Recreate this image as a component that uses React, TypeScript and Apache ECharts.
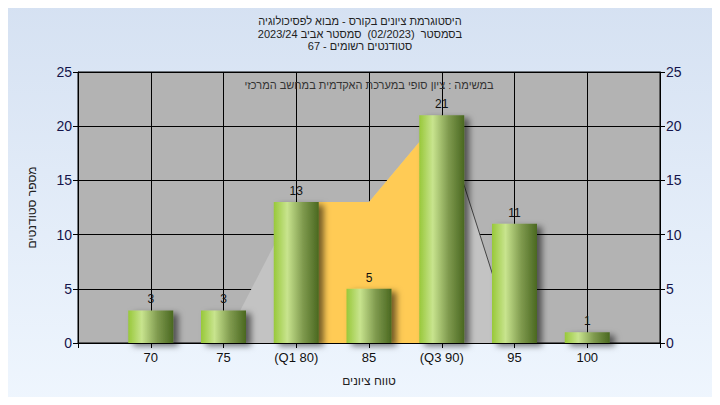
import React, { useEffect, useRef } from "react";
import * as echarts from "echarts";

const titleLines = [
  "היסטוגרמת ציונים בקורס - מבוא לפסיכולוגיה",
  "בסמסטר  (02/2023)  סמסטר אביב 2023/24",
  "סטודנטים רשומים - 67",
];
const noteText = "במשימה : ציון סופי במערכת האקדמית במחשב המרכזי";
const xAxisName = "טווח ציונים";
const yAxisName = "מספר סטודנטים";

const grades = [70, 75, 80, 85, 90, 95, 100];
const gradeLabels = ["70", "75", "(Q1 80)", "85", "(Q3 90)", "95", "100"];
const counts = [3, 3, 13, 5, 21, 11, 1];

const outerAreaX = [75, 80, 85, 90, 95];
const outerAreaY = [0, 13, 13, 21, 0];
const quartileAreaX = [80, 85, 90];
const quartileAreaY = [13, 13, 21];
const edgeLineX = [90, 95];
const edgeLineY = [21, 0];

const yTicks = [0, 5, 10, 15, 20, 25];

export default function App() {
  const ref = useRef<HTMLDivElement>(null);
  useEffect(() => {
    if (!ref.current) return;
    const chart = echarts.init(ref.current, null, { renderer: "svg" });
    const font = "Liberation Sans, Arial, sans-serif";
    const barGradient = new echarts.graphic.LinearGradient(0, 0, 1, 0, [
      { offset: 0, color: "#98c83a" },
      { offset: 0.3, color: "#c8e48e" },
      { offset: 0.65, color: "#7f9a4e" },
      { offset: 1, color: "#4a6820" },
    ]);
    const yAxisCommon = {
      type: "value" as const,
      min: yTicks[0],
      max: yTicks[yTicks.length - 1],
      interval: 5,
      axisLine: { show: true, lineStyle: { color: "#000", width: 1 } },
      axisTick: { show: true, length: 5, lineStyle: { color: "#000" } },
      axisLabel: { color: "#14144a", fontSize: 14, fontFamily: font, margin: 6 },
    };
    chart.setOption({
      animation: false,
      backgroundColor: new echarts.graphic.LinearGradient(0, 0, 0, 1, [
        { offset: 0, color: "#d5e1f2" },
        { offset: 1, color: "#eff6fe" },
      ]),
      textStyle: { fontFamily: font },
      title: {
        text: titleLines.join("\n"),
        left: "center",
        top: 10,
        textStyle: { fontSize: 11, fontWeight: "normal", color: "#222", lineHeight: 12.5, fontFamily: font },
      },
      graphic: [
        {
          type: "text",
          x: 369,
          y: 85,
          style: {
            text: noteText,
            fontSize: 11,
            fill: "#333",
            fontFamily: font,
            textAlign: "center",
            textVerticalAlign: "middle",
          },
          z: 10,
        },
      ],
      grid: {
        left: 78,
        right: 60,
        top: 72,
        bottom: 62,
        show: true,
        backgroundColor: "#b3b3b3",
        borderColor: "#000",
        borderWidth: 1,
      },
      xAxis: {
        type: "value",
        min: 65,
        max: 105,
        interval: 5,
        name: xAxisName,
        nameLocation: "middle",
        nameGap: 32,
        nameTextStyle: { fontSize: 12, color: "#222", fontFamily: font },
        axisLine: { show: true, onZero: false, lineStyle: { color: "#000" } },
        axisTick: { show: true, length: 5, lineStyle: { color: "#000" } },
        axisLabel: {
          color: "#111",
          fontSize: 13,
          fontFamily: font,
          margin: 8,
          formatter: (v: number) => {
            const i = grades.indexOf(v);
            return i >= 0 ? gradeLabels[i] : "";
          },
        },
        splitLine: { show: true, lineStyle: { color: "#000", width: 1 } },
      },
      yAxis: [
        {
          ...yAxisCommon,
          position: "left",
          name: yAxisName,
          nameLocation: "middle",
          nameGap: 40,
          nameTextStyle: { fontSize: 12, color: "#222", fontFamily: font },
          splitLine: { show: true, lineStyle: { color: "#000", width: 1 } },
        },
        {
          ...yAxisCommon,
          position: "right",
          splitLine: { show: false },
        },
      ],
      series: [
        {
          type: "line",
          data: outerAreaX.map((x, i) => [x, outerAreaY[i]]),
          symbol: "none",
          lineStyle: { width: 0 },
          areaStyle: { color: "#c3c3c3", opacity: 1 },
          z: 1,
          silent: true,
        },
        {
          type: "line",
          data: quartileAreaX.map((x, i) => [x, quartileAreaY[i]]),
          symbol: "none",
          lineStyle: { width: 0 },
          areaStyle: { color: "#ffcb55", opacity: 1 },
          z: 2,
          silent: true,
        },
        {
          type: "line",
          data: edgeLineX.map((x, i) => [x, edgeLineY[i]]),
          symbol: "none",
          lineStyle: { width: 1, color: "#444" },
          z: 3,
          silent: true,
        },
        {
          type: "bar",
          data: grades.map((g, i) => [g, counts[i]]),
          barWidth: 45,
          z: 5,
          itemStyle: {
            color: barGradient,
            shadowColor: "rgba(0,0,0,0.55)",
            shadowBlur: 6,
            shadowOffsetX: 5,
            shadowOffsetY: 3,
          },
          label: {
            show: true,
            position: "top",
            distance: 5,
            color: "#111",
            fontSize: 12,
            fontFamily: font,
            formatter: (p: any) => String(p.value[1]),
          },
        },
      ],
    });
    return () => chart.dispose();
  }, []);
  return <div ref={ref} style={{ width: 720, height: 405, margin: -8 }} />;
}
